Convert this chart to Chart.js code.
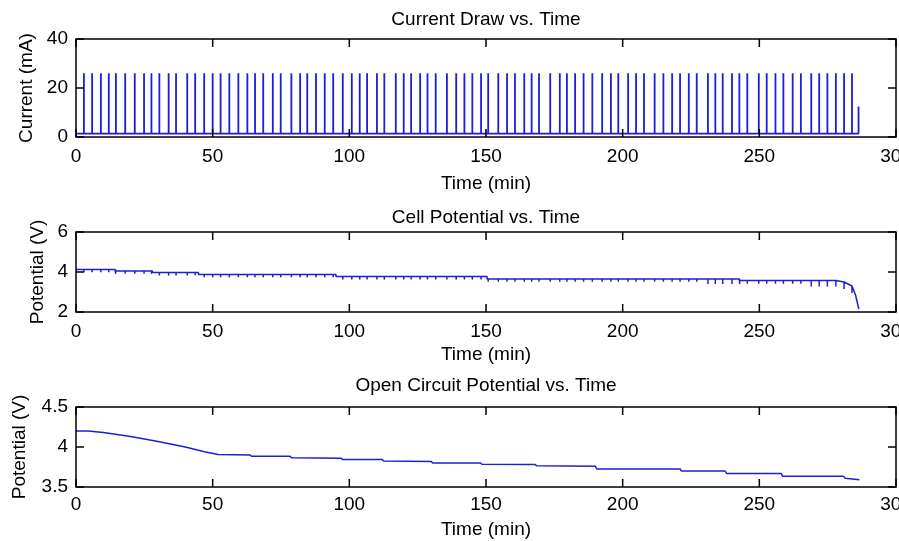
<!DOCTYPE html>
<html>
<head>
<meta charset="utf-8">
<script src="https://cdn.jsdelivr.net/npm/chart.js@4.4.1/dist/chart.umd.min.js"></script>
<style>
  html, body { margin: 0; padding: 0; background: #fff; }
  #wrap { position: relative; width: 899px; height: 541px; overflow: hidden; background: #fff; }
  canvas { position: absolute; left: 0; }
</style>
</head>
<body>
<div id="wrap">
  <canvas id="c1" width="940" height="197" style="top:0px"></canvas>
  <canvas id="c2" width="940" height="175" style="top:197px"></canvas>
  <canvas id="c3" width="940" height="169" style="top:372px"></canvas>
</div>
<script>
// pulse start times (min)
var pulseTimes = [2.9, 5.9, 9.1, 12.0, 14.6, 18.0, 21.5, 24.9, 27.6, 30.5, 33.9, 36.6, 40.7, 43.6, 46.9,
  50.0, 52.9, 56.1, 59.4, 62.7, 65.5, 68.5, 72.0, 74.9, 78.8, 82.0, 84.6, 87.8, 91.0, 94.1, 97.6,
  100.9, 103.8, 106.5, 110.1, 112.8, 117.0, 119.9, 122.6, 125.9, 128.6, 131.6, 135.7, 139.1, 142.1,
  145.0, 148.2, 150.8, 154.5, 157.7, 160.6, 164.0, 166.7, 169.4, 173.5, 177.0, 179.6, 182.6, 185.7,
  188.9, 192.5, 195.7, 198.4, 202.0, 204.9, 207.8, 211.7, 214.9, 218.1, 221.0, 224.2, 227.1, 231.2,
  233.9, 236.6, 240.0, 242.7, 245.6, 249.8, 252.7, 255.9, 258.8, 262.2, 265.2, 269.0, 271.9, 274.9,
  278.0, 281.0, 283.9];
var pulseMA = 26;
var restMA = 1.4;
var finalPulseTime = 286.3;
var finalPulseMA = 12.4;

// cell potential: resting levels (held from each time), then the end-of-life drop
var cellStepTimes = [0, 14.3, 28.0, 44.8, 95.1, 150.4, 242.9];
var cellStepVolts = [4.13, 4.05, 3.97, 3.88, 3.77, 3.65, 3.58];
var cellTailTimes = [277.3, 281.0, 283.9, 285.2, 286.4];
var cellTailVolts = [3.58, 3.50, 3.30, 2.85, 2.15];
// voltage sag during a pulse (held from each time)
var dropFrom = [0, 230, 243, 268, 279];
var dropSize = [0.14, 0.25, 0.17, 0.3, 0.35];

// open circuit potential, polyline vertices
var ocvTimes = [0, 4.5, 10, 20, 30, 40, 47, 52, 63.7, 64.2, 78.3, 78.8, 97, 97.5, 112, 112.5,
  130, 130.5, 148, 148.5, 168, 168.5, 190, 190.5, 221, 221.5, 237.5, 238, 258, 258.5, 280.8, 281.3, 286.6];
var ocvVolts = [4.20, 4.20, 4.18, 4.13, 4.07, 4.00, 3.94, 3.905, 3.90, 3.885, 3.885, 3.865, 3.86, 3.845,
  3.845, 3.825, 3.82, 3.80, 3.80, 3.785, 3.78, 3.765, 3.76, 3.725, 3.725, 3.70, 3.70, 3.67, 3.67, 3.635,
  3.635, 3.61, 3.59];

var xTicks = [0, 50, 100, 150, 200, 250, 300];

var BLUE = 'rgb(30,30,215)';
var FONT = { family: "'Liberation Sans', Arial, sans-serif", size: 19, weight: 'normal' };
Chart.defaults.font = FONT;
Chart.defaults.color = '#000';

function heldValue(times, vals, t) {
    var v = vals[0];
    for (var i = 0; i < times.length; i++) {
        if (times[i] <= t) v = vals[i];
    }
    return v;
}

function currentPoints() {
    var pts = [{x: 0, y: restMA}];
    pulseTimes.forEach(function(t) {
        pts.push({x: t, y: restMA});
        pts.push({x: t, y: pulseMA});
        pts.push({x: t, y: restMA});
    });
    pts.push({x: finalPulseTime, y: restMA});
    pts.push({x: finalPulseTime, y: finalPulseMA});
    return pts;
}

function cellPoints() {
    var groups = [];
    var i;
    for (i = 0; i < cellStepTimes.length; i++) {
        var g = [];
        if (i > 0) g.push({x: cellStepTimes[i], y: cellStepVolts[i - 1]});
        g.push({x: cellStepTimes[i], y: cellStepVolts[i]});
        groups.push({t: cellStepTimes[i], pts: g});
    }
    for (i = 0; i < cellTailTimes.length; i++) {
        groups.push({t: cellTailTimes[i], pts: [{x: cellTailTimes[i], y: cellTailVolts[i]}]});
    }
    pulseTimes.forEach(function(t) {
        var level = t < cellTailTimes[0] ? heldValue(cellStepTimes, cellStepVolts, t)
                                          : heldValue(cellTailTimes, cellTailVolts, t);
        var d = heldValue(dropFrom, dropSize, t);
        groups.push({t: t, pts: [{x: t, y: level}, {x: t, y: level - d}, {x: t, y: level}]});
    });
    groups.sort(function(a, b) { return a.t - b.t; });
    var out = [];
    groups.forEach(function(g) { out = out.concat(g.pts); });
    return out;
}

function ocvPoints() {
    return ocvTimes.map(function(t, i) { return {x: t, y: ocvVolts[i]}; });
}

// MATLAB style box with inward ticks on all four sides
var matlabBox = {
    id: 'matlabBox',
    afterDatasetsDraw: function(chart) {
        var ctx = chart.ctx, a = chart.chartArea, x = chart.scales.x, y = chart.scales.y;
        var L = 8;
        ctx.save();
        ctx.strokeStyle = '#000';
        ctx.lineWidth = 1.5;
        ctx.beginPath();
        x.ticks.forEach(function(t) {
            var px = x.getPixelForValue(t.value);
            ctx.moveTo(px, a.bottom); ctx.lineTo(px, a.bottom - L);
            ctx.moveTo(px, a.top); ctx.lineTo(px, a.top + L);
        });
        y.ticks.forEach(function(t) {
            var py = y.getPixelForValue(t.value);
            ctx.moveTo(a.left, py); ctx.lineTo(a.left + L, py);
            ctx.moveTo(a.right, py); ctx.lineTo(a.right - L, py);
        });
        ctx.stroke();
        ctx.strokeRect(a.left, a.top, a.right - a.left, a.bottom - a.top);
        ctx.restore();
    }
};

function makeChart(id, cfg) {
    var ctx = document.getElementById(id).getContext('2d');
    return new Chart(ctx, {
        type: 'line',
        data: {
            datasets: [{
                data: cfg.data,
                borderColor: BLUE,
                borderWidth: cfg.lineWidth,
                borderJoinStyle: 'bevel',
                pointRadius: 0,
                fill: false,
                tension: 0
            }]
        },
        options: {
            responsive: false,
            animation: false,
            devicePixelRatio: 1,
            events: [],
            layout: { padding: { left: 0, right: 44, top: 0, bottom: 0 } },
            plugins: {
                legend: { display: false },
                tooltip: { enabled: false },
                title: {
                    display: true,
                    text: cfg.title,
                    fullSize: false,
                    color: '#000',
                    font: FONT,
                    padding: { top: cfg.titlePad[0], bottom: cfg.titlePad[1] }
                }
            },
            scales: {
                x: {
                    type: 'linear',
                    min: 0,
                    max: 300,
                    afterBuildTicks: function(s) { s.ticks = xTicks.map(function(v) { return {value: v}; }); },
                    ticks: { autoSkip: false, maxRotation: 0, padding: cfg.xTickPad, color: '#000', font: FONT },
                    grid: { display: false, drawTicks: false, tickLength: 0 },
                    border: { display: false },
                    title: { display: true, text: 'Time (min)', color: '#000', font: FONT,
                             padding: { top: 0, bottom: cfg.xTitlePad } },
                    afterFit: function(s) { s.height = cfg.xHeight; }
                },
                y: {
                    min: cfg.yMin,
                    max: cfg.yMax,
                    ticks: { stepSize: cfg.yStep, padding: 8, color: '#000', font: FONT,
                             callback: function(v) { return String(+v.toFixed(2)); } },
                    grid: { display: false, drawTicks: false, tickLength: 0 },
                    border: { display: false },
                    title: { display: true, text: cfg.yLabel, color: '#000', font: FONT,
                             padding: { top: cfg.yTitlePad, bottom: 0 } },
                    afterFit: function(s) { s.width = 76; }
                }
            }
        },
        plugins: [matlabBox]
    });
}

makeChart('c1', {
    data: currentPoints(), lineWidth: 1.8,
    title: 'Current Draw vs. Time', titlePad: [8.6, 7.6],
    yLabel: 'Current (mA)', yMin: 0, yMax: 40, yStep: 20, yTitlePad: 15.6,
    xTickPad: 8, xTitlePad: 2, xHeight: 60
});

makeChart('c2', {
    data: cellPoints(), lineWidth: 1.5,
    title: 'Cell Potential vs. Time', titlePad: [9.6, 2.6],
    yLabel: 'Potential (V)', yMin: 2, yMax: 6, yStep: 2, yTitlePad: 26,
    xTickPad: 8, xTitlePad: 5.6, xHeight: 60
});

makeChart('c3', {
    data: ocvPoints(), lineWidth: 1.5,
    title: 'Open Circuit Potential vs. Time', titlePad: [2.6, 9.6],
    yLabel: 'Potential (V)', yMin: 3.5, yMax: 4.5, yStep: 0.5, yTitlePad: 8.6,
    xTickPad: 6.6, xTitlePad: 0, xHeight: 54
});
</script>
</body>
</html>
